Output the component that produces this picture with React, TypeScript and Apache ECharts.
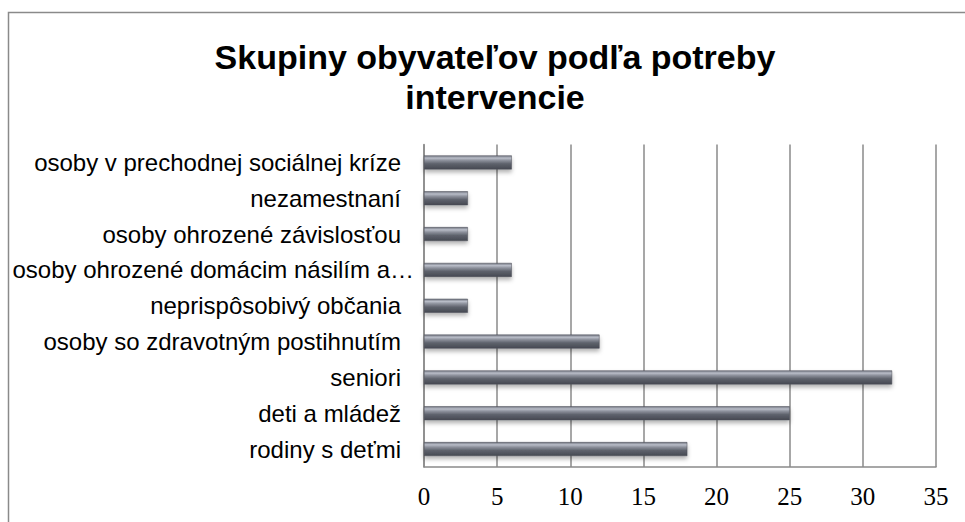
import React, { useEffect, useRef } from "react";
import * as echarts from "echarts";

const titleText = "Skupiny obyvateľov podľa potreby\nintervencie";
const categories = [
  "rodiny s deťmi",
  "deti a mládež",
  "seniori",
  "osoby so zdravotným postihnutím",
  "neprispôsobivý občania",
  "osoby ohrozené domácim násilím a…",
  "osoby ohrozené závislosťou",
  "nezamestnaní",
  "osoby v prechodnej sociálnej kríze",
];
const values = [18, 25, 32, 12, 3, 6, 3, 3, 6];
const xMin = 0;
const xMax = 35;
const xStep = 5;

export default function App() {
  const ref = useRef<HTMLDivElement>(null);
  useEffect(() => {
    if (!ref.current) return;
    const chart = echarts.init(ref.current, null, { renderer: "svg" });
    const barGradient = new echarts.graphic.LinearGradient(0, 0, 0, 1, [
      { offset: 0, color: "#70747f" },
      { offset: 0.18, color: "#b9bdc8" },
      { offset: 0.35, color: "#8d919c" },
      { offset: 0.6, color: "#5e626c" },
      { offset: 1, color: "#464952" },
    ]);
    chart.setOption({
      animation: false,
      backgroundColor: "#ffffff",
      title: {
        text: titleText,
        left: 490,
        top: 32,
        textAlign: "center",
        textStyle: {
          fontFamily: "Liberation Sans",
          fontSize: 34,
          fontWeight: "bold",
          color: "#000",
          lineHeight: 40,
        },
      },
      graphic: [
        {
          type: "rect",
          shape: { x: 8.5, y: 12.5, width: 1100, height: 700 },
          style: { fill: "none", stroke: "#8a8a8a", lineWidth: 1.5 },
          silent: true,
        },
      ],
      grid: { left: 424, right: 29, top: 144.5, bottom: 55 },
      xAxis: {
        type: "value",
        min: xMin,
        max: xMax,
        interval: xStep,
        axisLine: { show: true, lineStyle: { color: "#8a8a8a", width: 1.5 } },
        axisTick: { show: false },
        splitLine: { show: true, lineStyle: { color: "#8a8a8a", width: 1.5 } },
        axisLabel: {
          fontFamily: "Liberation Serif",
          fontSize: 25,
          color: "#000",
          margin: 17,
        },
      },
      yAxis: {
        type: "category",
        data: categories,
        axisLine: { show: true, onZero: false, lineStyle: { color: "#8a8a8a", width: 1.5 } },
        axisTick: { show: false },
        splitLine: { show: false },
        axisLabel: {
          margin: 10,
          formatter: (v: string) =>
            v.endsWith("…") ? "{b|" + v + "}" : "{a|" + v + "}",
          rich: {
            a: {
              fontFamily: "Liberation Sans",
              fontSize: 24,
              color: "#000",
              padding: [0, 13, 0, 0],
            },
            b: {
              fontFamily: "Liberation Sans",
              fontSize: 24,
              color: "#000",
            },
          },
        },
      },
      series: [
        {
          type: "bar",
          data: values,
          barWidth: 14,
          itemStyle: {
            color: barGradient,
            borderColor: "#4a4d56",
            borderWidth: 0.5,
            shadowColor: "rgba(0,0,0,0.3)",
            shadowBlur: 4,
            shadowOffsetY: 3,
          },
        },
      ],
    });
    return () => chart.dispose();
  }, []);
  return (
    <div
      ref={ref}
      style={{ position: "fixed", left: 0, top: 0, width: 965, height: 522 }}
    />
  );
}
